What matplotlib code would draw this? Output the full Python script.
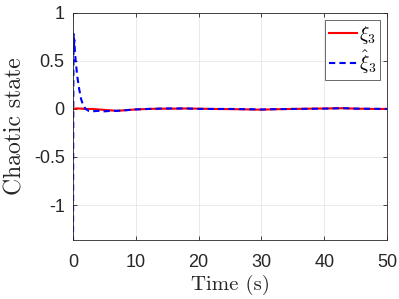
import matplotlib
matplotlib.use("Agg")
import matplotlib.pyplot as plt
import numpy as np

# (time in s)
t_true = [0, 0.5, 1, 2, 3, 4, 5, 6, 7, 8, 9, 10, 12, 14, 16, 18, 20, 22, 25, 28, 30, 32, 35, 38, 40, 43, 45, 48, 50]
xi3 = [0.0, 0.005, 0.005, 0.0, 0.0, -0.005, -0.01, -0.015, -0.02, -0.015, -0.01, -0.005, 0.0, 0.003, 0.003, 0.005, 0.003, 0.0, -0.002, -0.005, -0.008, -0.003, 0.0, 0.003, 0.005, 0.008, 0.003, 0.0, 0.0]

t_est = [0, 0.05, 0.1, 0.15, 0.2, 0.3, 0.45, 0.7, 1.0, 1.3, 1.6, 2.0, 2.5, 3, 4, 5, 6, 7, 8, 10, 12, 15, 18, 20, 25, 30, 35, 40, 43, 45, 50]
xi3_hat = [-1.5, 0.2, 0.78, 0.62, 0.72, 0.6, 0.48, 0.33, 0.2, 0.1, 0.04, 0.0, -0.02, -0.025, -0.02, -0.025, -0.02, -0.02, -0.015, -0.005, 0.0, 0.005, 0.005, 0.0, 0.0, -0.005, 0.0, 0.003, 0.008, 0.003, 0.0]

plt.rcParams['mathtext.fontset'] = 'cm'
plt.rcParams['font.family'] = 'Liberation Sans'

fig = plt.figure(figsize=(3.99, 2.99), dpi=100)
ax = fig.add_axes([0.183, 0.197, 0.787, 0.760])

ax.plot(t_true, xi3, color='#ff0000', linewidth=1.5, label=r'$\xi_3$')
ax.plot(t_est, xi3_hat, color='#0000ff', linewidth=1.5, linestyle='--', dashes=(3, 2), label=r'$\hat{\xi}_3$')

ax.set_xlim(0, 50)
ax.set_ylim(-1.365, 1)
ax.set_xticks([0, 10, 20, 30, 40, 50])
ax.set_yticks([-1, -0.5, 0, 0.5, 1])
ax.set_yticklabels(['-1', '-0.5', '0', '0.5', '1'])
ax.grid(True, color='#e6e6e6', linewidth=0.6)
ax.set_axisbelow(True)
ax.tick_params(direction='in', labelsize=13, length=3, color='#262626', top=True, right=True,
               labelcolor='#262626', width=0.6)
ax.tick_params(axis='x', pad=10)
ax.tick_params(axis='y', pad=6)
for s in ax.spines.values():
    s.set_color('#262626')
    s.set_linewidth(0.6)

ax.set_xlabel('Time (s)', family='cmr10', fontsize=15, color='#262626', labelpad=3)
ax.set_ylabel('Chaotic state', family='cmr10', fontsize=17, color='#262626', labelpad=5)

leg = ax.legend(loc='upper right', fontsize=14, frameon=True, fancybox=False,
                edgecolor='#262626', handlelength=1.4, borderaxespad=0.36,
                borderpad=0.2, labelspacing=0.15, handletextpad=0.1)
leg.get_frame().set_linewidth(0.6)

fig.savefig('out.png', dpi=100)
